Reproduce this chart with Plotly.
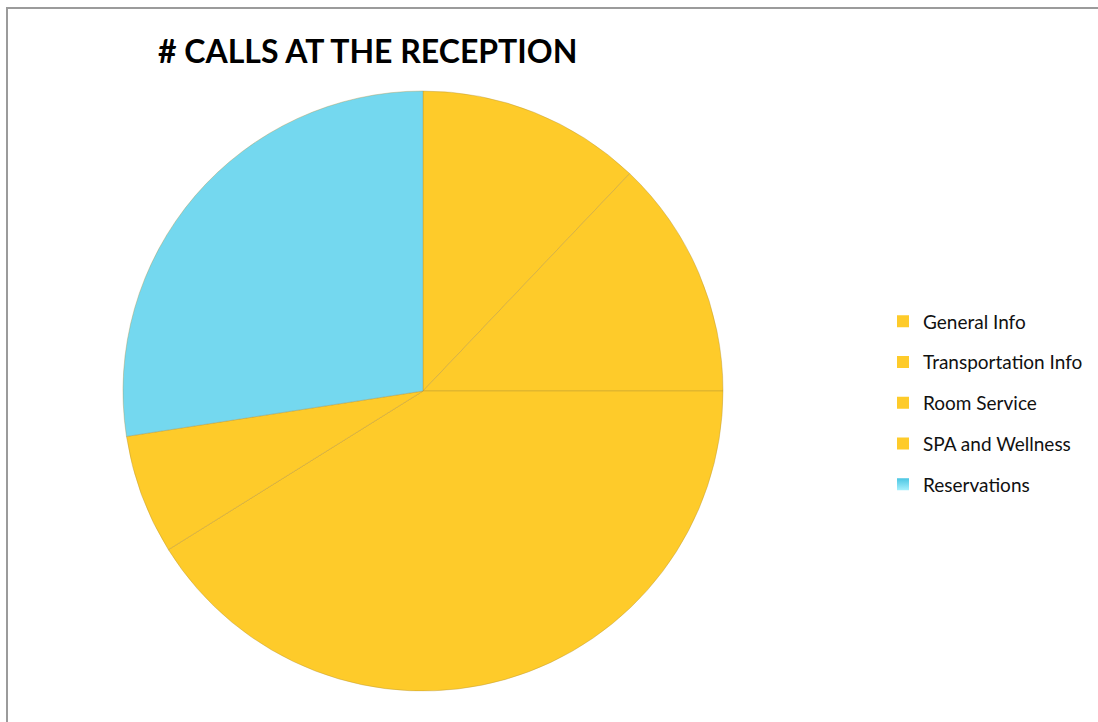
import plotly.graph_objects as go

categories = ["General Info", "Transportation Info", "Room Service", "SPA and Wellness", "Reservations"]
calls = [15, 16, 51, 8, 34]
slice_colors = ["#FECB2A", "#FECB2A", "#FECB2A", "#FECB2A", "#74D8EF"]
title_text = "# CALLS AT THE RECEPTION"

W, H = 1098, 722
cx, cy, r = 423, 391, 300

fig = go.Figure()
fig.add_trace(go.Pie(
    labels=categories,
    values=calls,
    sort=False,
    direction="clockwise",
    rotation=0,
    textinfo="none",
    hoverinfo="label+value+percent",
    showlegend=False,
    marker=dict(colors=slice_colors, line=dict(color="rgba(170,140,60,0.45)", width=0.8)),
    domain=dict(x=[(cx - r) / W, (cx + r) / W], y=[(H - cy - r) / H, (H - cy + r) / H]),
))

# legend entries built from the same categories
for i, (cat, col) in enumerate(zip(categories, slice_colors)):
    marker = dict(symbol="square", size=12, color=col, line=dict(width=0))
    if i == 4:
        marker["color"] = "#4AC5E2"
        marker["gradient"] = dict(type="vertical", color="#A6F0FD")
    fig.add_trace(go.Scatter(
        x=[None], y=[None], mode="markers", name=cat,
        marker=marker, legendgroup=f"g{i}", showlegend=True, hoverinfo="skip",
    ))

fig.update_layout(
    width=W, height=H,
    margin=dict(l=0, r=0, t=0, b=0),
    paper_bgcolor="white",
    plot_bgcolor="white",
    xaxis=dict(visible=False),
    yaxis=dict(visible=False),
    title=dict(
        text=title_text,
        x=158 / W, xanchor="left",
        y=1 - 52 / H, yanchor="middle",
        font=dict(family="Lato", size=32, color="black", weight="bold"),
    ),
    legend=dict(
        x=883 / W, xanchor="left",
        y=1 - 403 / H, yanchor="middle",
        font=dict(family="Lato", size=19, color="#111111"),
        tracegroupgap=13,
        bgcolor="rgba(0,0,0,0)",
        itemclick=False, itemdoubleclick=False,
    ),
    shapes=[dict(
        type="rect", xref="paper", yref="paper",
        x0=7 / W, x1=1.02, y0=-0.02, y1=1 - 8 / H,
        line=dict(color="#9B9B9B", width=2), fillcolor="rgba(0,0,0,0)",
    )],
)

fig.write_html(
    "out.html",
    config={"displayModeBar": False},
    post_script="document.body.style.margin='0';document.body.style.overflow='hidden';",
)
